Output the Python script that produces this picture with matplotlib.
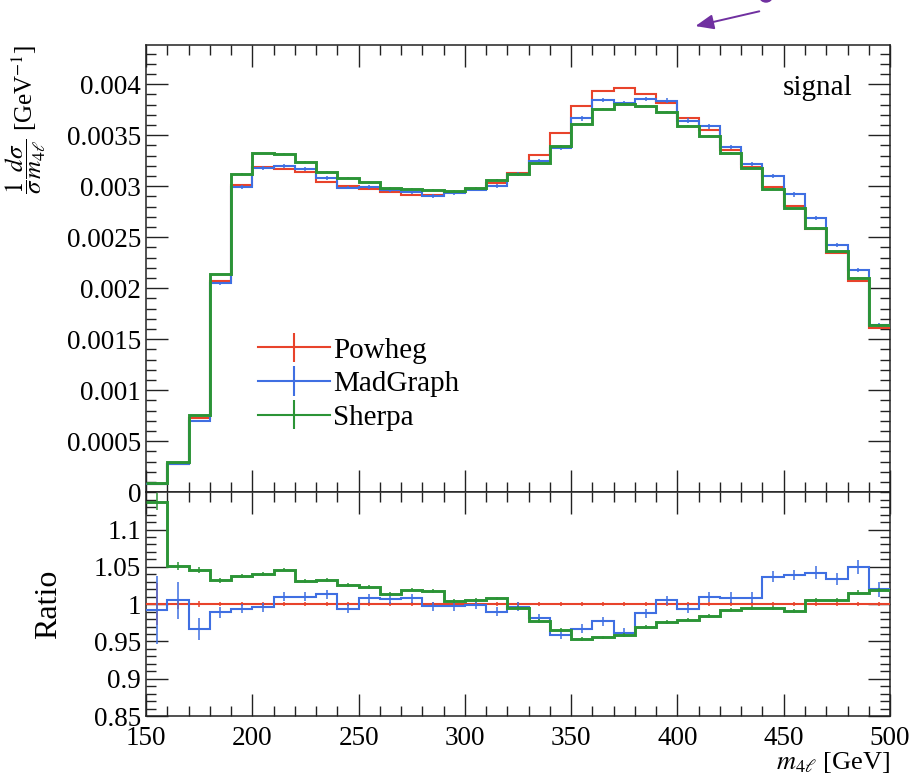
import numpy as np
import matplotlib
matplotlib.use("Agg")
import matplotlib.pyplot as plt
from matplotlib.ticker import MultipleLocator, FixedLocator, FuncFormatter
from matplotlib.patches import FancyArrowPatch, Ellipse

plt.rcParams['font.family'] = ['Liberation Serif', 'DejaVu Serif']
plt.rcParams['mathtext.fontset'] = 'stix'

# ---------------- data ----------------
bin_edges = np.arange(150, 501, 10)

powheg = [0.000078, 0.000278, 0.000725, 0.00207, 0.003012, 0.003192, 0.003172,
          0.00314, 0.003045, 0.003006, 0.00297, 0.002941, 0.002918, 0.002912,
          0.002945, 0.00297, 0.003036, 0.003134, 0.003307, 0.00352, 0.00379,
          0.003937, 0.003968, 0.003905, 0.00382, 0.003667, 0.003552, 0.003356,
          0.003192, 0.00299, 0.00281, 0.002578, 0.002349, 0.002072, 0.001608]

madgraph_ratio = [0.992, 1.005, 0.9665, 0.989, 0.994, 0.996, 1.0098, 1.0098,
                  1.013, 0.994, 1.008, 1.0067, 1.0076, 0.997, 0.997, 0.999,
                  0.990, 0.9964, 0.981, 0.959, 0.967, 0.977, 0.9616, 0.9875,
                  1.0054, 0.994, 1.0098, 1.0088, 1.0088, 1.0366, 1.039, 1.0422,
                  1.034, 1.05, 1.0197]

sherpa_ratio = [1.137, 1.051, 1.0455, 1.032, 1.0375, 1.0406, 1.0464, 1.031,
                1.032, 1.026, 1.023, 1.014, 1.0196, 1.018, 1.0045, 1.0054,
                1.0076, 0.9955, 0.977, 0.965, 0.9535, 0.9553, 0.959, 0.9696,
                0.9763, 0.9794, 0.984, 0.992, 0.995, 0.995, 0.991, 1.0054,
                1.006, 1.0156, 1.019]

powheg_relerr = [0.028, 0.006, 0.004, 0.003, 0.0025, 0.0025, 0.0025, 0.0025,
                 0.0025, 0.0025, 0.0025, 0.0025, 0.0025, 0.0025, 0.0025, 0.0025,
                 0.0025, 0.0025, 0.0025, 0.0025, 0.0025, 0.0025, 0.0025, 0.0025,
                 0.0025, 0.0025, 0.0025, 0.0025, 0.0025, 0.0025, 0.0025, 0.0025,
                 0.0025, 0.003, 0.003]
madgraph_relerr = [0.046, 0.025, 0.015, 0.007, 0.006, 0.006, 0.006, 0.006,
                   0.006, 0.006, 0.006, 0.006, 0.006, 0.006, 0.006, 0.006,
                   0.006, 0.006, 0.006, 0.006, 0.006, 0.006, 0.006, 0.006,
                   0.006, 0.006, 0.007, 0.007, 0.007, 0.007, 0.007, 0.008,
                   0.008, 0.009, 0.01]
sherpa_relerr = [0.01, 0.005, 0.004, 0.003, 0.0025, 0.0025, 0.0025, 0.0025,
                 0.0025, 0.0025, 0.0025, 0.0025, 0.0025, 0.0025, 0.0025, 0.0025,
                 0.0025, 0.0025, 0.0025, 0.0025, 0.0025, 0.0025, 0.0025, 0.0025,
                 0.0025, 0.0025, 0.0025, 0.0025, 0.0025, 0.0025, 0.0025, 0.0025,
                 0.0025, 0.003, 0.003]

labels = ["Powheg", "MadGraph", "Sherpa"]
colors = ["#e8432b", "#3f6fe2", "#2b9436"]
lws = [1.5, 1.5, 2.1]

x_ticks = [150, 200, 250, 300, 350, 400, 450, 500]
ratio_ticks = [0.85, 0.9, 0.95, 1.0, 1.05, 1.1]
top_ticks = [0, 0.0005, 0.001, 0.0015, 0.002, 0.0025, 0.003, 0.0035, 0.004]

# ---------------- derived ----------------
edges = np.asarray(bin_edges, dtype=float)
centers = 0.5 * (edges[:-1] + edges[1:])
p = np.asarray(powheg)
ratios = [np.ones_like(p), np.asarray(madgraph_ratio), np.asarray(sherpa_ratio)]
relerrs = [np.asarray(powheg_relerr), np.asarray(madgraph_relerr), np.asarray(sherpa_relerr)]
values = [p * r for r in ratios]

# ---------------- figure ----------------
fig = plt.figure(figsize=(9.12, 7.75), dpi=100)
ax = fig.add_axes([0.1601, 0.3648, 0.8158, 0.5771])
axr = fig.add_axes([0.1601, 0.0761, 0.8158, 0.2887], sharex=ax)

handles = []
for v, r, e, c, lw, lab in zip(values, ratios, relerrs, colors, lws, labels):
    ax.stairs(v, edges, color=c, lw=lw, baseline=None, zorder=3)
    ax.errorbar(centers, v, yerr=v * e, fmt='none', ecolor=c, elinewidth=1.1, zorder=3)
    axr.stairs(r, edges, color=c, lw=lw, baseline=None, zorder=3)
    axr.errorbar(centers, r, yerr=r * e, fmt='none', ecolor=c, elinewidth=1.1, zorder=3)
    h = ax.errorbar([np.nan], [np.nan], yerr=[0.0], fmt='-', color=c, lw=1.5,
                    elinewidth=1.5, label=lab)
    handles.append(h)

ax.set_xlim(150, 500)
ax.set_ylim(0, 0.004385)
axr.set_ylim(0.85, 1.15)

for a in (ax, axr):
    a.xaxis.set_major_locator(MultipleLocator(50))
    a.xaxis.set_minor_locator(MultipleLocator(10))
    a.tick_params(which='both', direction='in', top=True, right=True,
                  width=1.0, color='#222222')
    a.tick_params(which='major', length=16, labelsize=19.5)
    a.tick_params(which='minor', length=7)
    for s in a.spines.values():
        s.set_linewidth(1.1)
        s.set_color('#222222')

ax.yaxis.set_major_locator(FixedLocator(top_ticks))
ax.yaxis.set_minor_locator(MultipleLocator(0.0001))
ax.yaxis.set_major_formatter(FuncFormatter(lambda y, _: "0" if abs(y) < 1e-12 else f"{y:g}"))
ax.tick_params(axis='x', labelbottom=False)

axr.yaxis.set_major_locator(FixedLocator(ratio_ticks))
axr.yaxis.set_minor_locator(MultipleLocator(0.01))
axr.yaxis.set_major_formatter(FuncFormatter(lambda y, _: f"{y:g}"))
axr.set_xticks(x_ticks)
axr.set_xticklabels([str(t) for t in x_ticks])
axr.tick_params(axis='x', which='major', pad=7.5)

ax.set_ylabel(r"$\dfrac{1}{\sigma}\dfrac{d\sigma}{m_{4\ell}}$ [GeV$^{-1}$]", fontsize=18,
              ha='right')
ax.yaxis.set_label_coords(-0.132, 1.0)

axr.set_ylabel("Ratio", fontsize=23)
axr.yaxis.set_label_coords(-0.112, 0.5)

axr.set_xlabel(r"$m_{4\ell}$ [GeV]", fontsize=19, ha='right')
axr.xaxis.set_label_coords(1.0, -0.15)

ax.text(0.949, 0.904, "signal", transform=ax.transAxes, ha='right', va='center',
        fontsize=21)

ax.legend(handles=handles, labels=labels, loc='upper left',
          bbox_to_anchor=(0.15, 0.347), frameon=False, fontsize=21,
          handlelength=2.48, handletextpad=0.12, labelspacing=0.25,
          borderpad=0, borderaxespad=0)

# annotation arrow at the top of the image
W, H = 912.0, 775.0
arrow = FancyArrowPatch((762 / W, 1 - 10.7 / H), (692.7 / W, 1 - 26.7 / H),
                        transform=fig.transFigure,
                        arrowstyle="-|>,head_length=11,head_width=4.5",
                        mutation_scale=1, color='#7030a0', lw=1.4)
fig.add_artist(arrow)
fig.add_artist(Ellipse((766 / W, 1 + 3 / H), 12 / W, 10 / H,
                       transform=fig.transFigure, color='#7030a0'))

fig.savefig("out.png", dpi=100)
